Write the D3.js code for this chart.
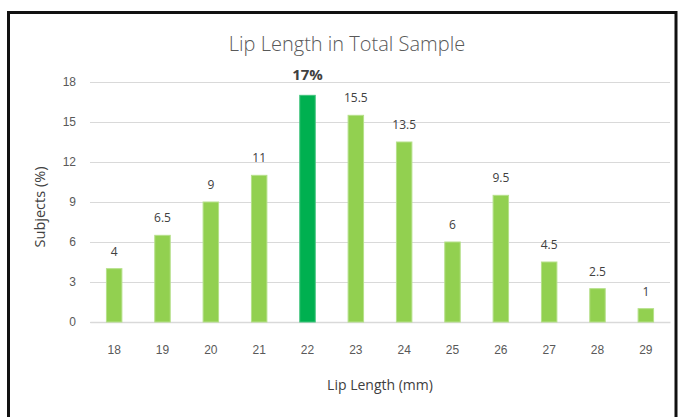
<!DOCTYPE html>
<html>
<head>
<meta charset="utf-8">
<script src="https://cdn.jsdelivr.net/npm/d3@7"></script>
<style>
  body { margin: 0; background: #fff; }
  svg { display: block; font-family: "Open Sans", "Noto Sans", sans-serif; }
</style>
</head>
<body>
<div id="chart"></div>
<script>
// Lip length categories (mm) and share of subjects (%)
const lipLengths = ["18", "19", "20", "21", "22", "23", "24", "25", "26", "27", "28", "29"];
const subjectPct = [4, 6.5, 9, 11, 17, 15.5, 13.5, 6, 9.5, 4.5, 2.5, 1];
const barLabels = ["4", "6.5", "9", "11", "17%", "15.5", "13.5", "6", "9.5", "4.5", "2.5", "1"];
const yTicks = [0, 3, 6, 9, 12, 15, 18];
const highlight = "22";

const width = 678;
const height = 417;
const margin = { top: 82, right: 8, bottom: 95, left: 90 };

const svg = d3.select("#chart").append("svg")
  .attr("width", width)
  .attr("height", height);

// outer frame
svg.append("path")
  .attr("d", "M8.5," + height + " L8.5,12.5 L676,12.5 L676," + height)
  .attr("fill", "none")
  .attr("stroke", "#111")
  .attr("stroke-width", 3);

const innerW = width - margin.left - margin.right;
const innerH = height - margin.top - margin.bottom;

const xScale = d3.scaleBand()
  .domain(lipLengths)
  .range([0, innerW])
  .paddingInner(0.68)
  .paddingOuter(0.34);

const yScale = d3.scaleLinear()
  .domain([0, 18])
  .range([innerH, 0]);

const g = svg.append("g")
  .attr("transform", "translate(" + margin.left + "," + margin.top + ")");

// gridlines + y labels
const yAxis = d3.axisLeft(yScale).tickValues(yTicks).tickSize(-innerW).tickPadding(14);
g.append("g")
  .call(yAxis)
  .call(function(ax) {
    ax.select(".domain").remove();
    ax.selectAll(".tick line").attr("stroke", "#d9d9d9").attr("stroke-width", 1);
    ax.selectAll(".tick text")
      .attr("fill", "#595959")
      .style("font-size", "12px");
  });

// x labels
const xAxis = d3.axisBottom(xScale).tickSize(0).tickPadding(23);
g.append("g")
  .attr("transform", "translate(0," + innerH + ")")
  .call(xAxis)
  .call(function(ax) {
    ax.select(".domain").attr("stroke", "#d9d9d9").attr("stroke-width", 1.5);
    ax.selectAll(".tick text")
      .attr("fill", "#595959")
      .style("font-size", "12px");
  });

const rows = lipLengths.map(function(d, i) {
  return { x: d, y: subjectPct[i], label: barLabels[i] };
});

g.selectAll("rect.bar")
  .data(rows)
  .enter().append("rect")
  .attr("class", "bar")
  .attr("x", function(d) { return xScale(d.x); })
  .attr("y", function(d) { return yScale(d.y); })
  .attr("width", xScale.bandwidth())
  .attr("height", function(d) { return innerH - yScale(d.y); })
  .attr("fill", function(d) { return d.x === highlight ? "#00B050" : "#92D050"; })
  .attr("stroke", function(d) { return d.x === highlight ? "#40c47c" : "#b6e08a"; })
  .attr("stroke-width", 1);

g.selectAll("text.val")
  .data(rows)
  .enter().append("text")
  .attr("class", "val")
  .attr("x", function(d) { return xScale(d.x) + xScale.bandwidth() / 2; })
  .attr("y", function(d) { return yScale(d.y) - (d.x === highlight ? 15 : 13); })
  .attr("text-anchor", "middle")
  .attr("fill", "#404040")
  .style("font-size", function(d) { return d.x === highlight ? "15px" : "12px"; })
  .style("font-weight", function(d) { return d.x === highlight ? "bold" : "normal"; })
  .text(function(d) { return d.label; });

// title
svg.append("text")
  .attr("x", 347)
  .attr("y", 51)
  .attr("text-anchor", "middle")
  .attr("fill", "#595959")
  .style("font-size", "20px")
  .style("font-weight", 300)
  .text("Lip Length in Total Sample");

// axis titles
svg.append("text")
  .attr("x", margin.left + innerW / 2)
  .attr("y", 390)
  .attr("text-anchor", "middle")
  .attr("fill", "#404040")
  .style("font-size", "14px")
  .text("Lip Length (mm)");

svg.append("text")
  .attr("transform", "translate(45," + (margin.top + 125) + ") rotate(-90)")
  .attr("text-anchor", "middle")
  .attr("fill", "#404040")
  .style("font-size", "14.5px")
  .text("Subjects (%)");
</script>
</body>
</html>
